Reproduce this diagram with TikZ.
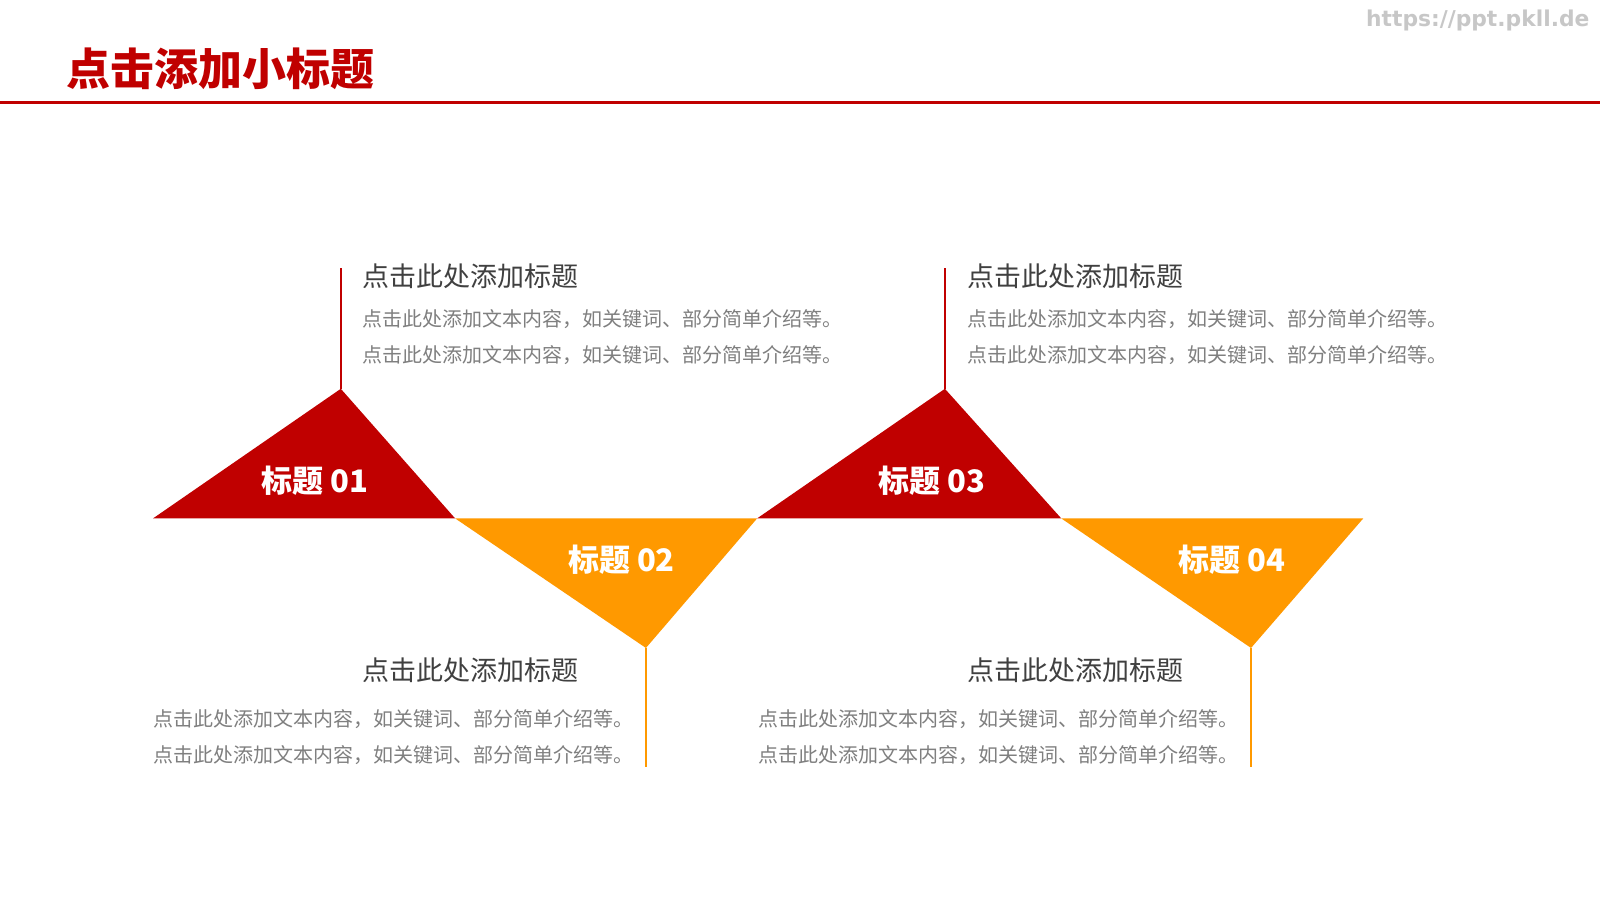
\documentclass[tikz,border=0pt]{standalone}
\usepackage{fontspec}
\setmainfont{Noto Sans CJK SC}
\newfontfamily\urlfont{DejaVu Sans}
\usepackage{xcolor}
\usepackage{tikz}
\usetikzlibrary{positioning,calc}

\definecolor{deepred}{HTML}{C00000}
\definecolor{amber}{HTML}{FF9900}
\definecolor{headgray}{HTML}{404040}
\definecolor{bodygray}{HTML}{7F7F7F}

\tikzset{
  head/.style={inner sep=0, anchor=west, text=headgray, font=\fontsize{13.5}{16}\selectfont},
  body/.style={inner sep=0, text=bodygray, font=\fontsize{10}{12}\selectfont},
  tag/.style={inner sep=0, text=white, font=\bfseries\fontsize{15.5}{18}\selectfont},
  stem/.style={line width=0.75pt},
}

\begin{document}
\begin{tikzpicture}[x=0.5102pt, y=-0.5102pt]
    \useasboundingbox[fill=white] (0,0) rectangle (1568,882);
    % header
    \node[inner sep=0, anchor=west, text=deepred, font=\bfseries\fontsize{22}{26}\selectfont] (title) at (65,67) {点击添加小标题};
    \node[inner sep=0, anchor=east, text=black!22, font=\urlfont\bfseries\fontsize{10.9}{13}\selectfont] (url) at (1558,20) {https://ppt.pkll.de};
    \draw[deepred, line width=1.5pt] (0,100) -- (1568,100);

    % triangles
    \coordinate (top1) at (334,381);
    \coordinate (bot2) at (633,635);
    \coordinate (top3) at (926,381);
    \coordinate (bot4) at (1226,635);
    \fill[deepred] (150,508) -- (top1) -- (446,508) -- cycle;
    \fill[amber] (446,508) -- (bot2) -- (742,508) -- cycle;
    \fill[deepred] (742,508) -- (top3) -- (1040,508) -- cycle;
    \fill[amber] (1040,508) -- (bot4) -- (1336,508) -- cycle;
    \node[tag] (tag1) at (309,471) {标题 01};
    \node[tag] (tag2) at (609,549) {标题 02};
    \node[tag] (tag3) at (913,471) {标题 03};
    \node[tag] (tag4) at (1207,549) {标题 04};

    % stems
    \coordinate (end1) at (334,263);
    \coordinate (end2) at (633,752);
    \coordinate (end3) at (926,263);
    \coordinate (end4) at (1226,752);
    \draw[stem, deepred] (top1) -- (end1);
    \draw[stem, amber] (bot2) -- (end2);
    \draw[stem, deepred] (top3) -- (end3);
    \draw[stem, amber] (bot4) -- (end4);

    % text blocks
    \node[head] (head1) at (355,271) {点击此处添加标题};
    \node[body, anchor=west] (body1a) at (355,313) {点击此处添加文本内容，如关键词、部分简单介绍等。};
    \node[body, anchor=west] (body1b) at (355,348) {点击此处添加文本内容，如关键词、部分简单介绍等。};
    \node[head] (head2) at (355,657) {点击此处添加标题};
    \node[body, anchor=east] (body2a) at (621,705) {点击此处添加文本内容，如关键词、部分简单介绍等。};
    \node[body, anchor=east] (body2b) at (621,740) {点击此处添加文本内容，如关键词、部分简单介绍等。};
    \node[head] (head3) at (948,271) {点击此处添加标题};
    \node[body, anchor=west] (body3a) at (948,313) {点击此处添加文本内容，如关键词、部分简单介绍等。};
    \node[body, anchor=west] (body3b) at (948,348) {点击此处添加文本内容，如关键词、部分简单介绍等。};
    \node[head] (head4) at (948,657) {点击此处添加标题};
    \node[body, anchor=east] (body4a) at (1214,705) {点击此处添加文本内容，如关键词、部分简单介绍等。};
    \node[body, anchor=east] (body4b) at (1214,740) {点击此处添加文本内容，如关键词、部分简单介绍等。};
\end{tikzpicture}
\end{document}
